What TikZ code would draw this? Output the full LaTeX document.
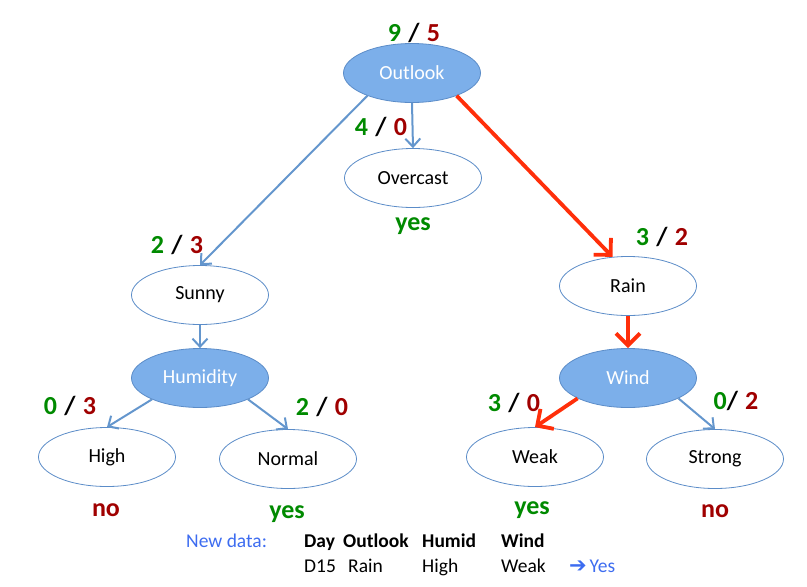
\documentclass[tikz,border=0pt]{standalone}
\usepackage{fontspec}
\setmainfont{Carlito}
\newfontfamily\dejavu{DejaVu Sans}
\usetikzlibrary{shapes.geometric,arrows.meta}
\definecolor{edgeblue}{HTML}{6496CD}
\definecolor{nodeline}{HTML}{5B8CC8}
\definecolor{nodefill}{HTML}{7CAFEA}
\definecolor{pathred}{HTML}{FF2F0A}
\definecolor{cgreen}{HTML}{008A00}
\definecolor{cdred}{HTML}{A00000}
\definecolor{newblue}{HTML}{3D6CF0}
\newcommand\gbratio[2]{\textcolor{cgreen}{#1}\hspace{0.28em}/\hspace{0.28em}\textcolor{cdred}{#2}}
\begin{document}
\begin{tikzpicture}[x=1pt,y=-1pt,
  leaf/.style={ellipse,draw=nodeline,line width=0.8pt,fill=white,minimum width=137pt,minimum height=59pt,inner sep=0pt,font=\fontsize{20}{22}\selectfont},
  attr/.style={leaf,fill=nodefill,text=white},
  count/.style={font=\fontsize{26}{28}\selectfont\bfseries,inner sep=0pt},
  yesv/.style={font=\fontsize{26}{28}\selectfont\bfseries,text=cgreen,inner sep=0pt},
  nov/.style={font=\fontsize{26}{28}\selectfont\bfseries,text=cdred,inner sep=0pt},
  tabtext/.style={font=\fontsize{19.5}{21}\selectfont,anchor=base west,inner sep=0pt},
  tabhead/.style={tabtext,font=\fontsize{19.5}{21}\selectfont\bfseries},
  blueedge/.style={draw=edgeblue,line width=2pt,-{Straight Barb[length=8pt,width=15pt]}},
  rededge/.style={draw=pathred,line width=3.8pt,-{Straight Barb[length=12pt,width=24pt]}},
]
\useasboundingbox (0,0) rectangle (807,587);

% nodes
\node[attr] (outlook) at (412,73) {Outlook};
\node[leaf] (overcast) at (413,178) {Overcast};
\node[leaf] (sunny) at (200,295) {Sunny};
\node[attr] (humidity) at (200,378) {Humidity};
\node[leaf] (high) at (107,457) {High};
\node[leaf] (normal) at (288,459) {Normal};
\node[leaf] (rain) at (628,286) {Rain};
\node[attr] (wind) at (628,378) {Wind};
\node[leaf] (weak) at (535,457) {Weak};
\node[leaf] (strong) at (715,459) {Strong};

% counts
\node[count] (c95) at (414,33) {\gbratio{9}{5}};
\node[count] (c40) at (381,127) {\gbratio{4}{0}};
\node[count] (c23) at (177,245) {\gbratio{2}{3}};
\node[count] (c32) at (662,237) {\gbratio{3}{2}};
\node[count] (c03) at (70,406) {\gbratio{0}{3}};
\node[count] (c20) at (322,407) {\gbratio{2}{0}};
\node[count] (c30) at (514,403) {\gbratio{3}{0}};
\node[count] (c02) at (736,401) {\textcolor{cgreen}{0}/\hspace{0.28em}\textcolor{cdred}{2}};

% verdicts
\node[yesv] (vovercast) at (413,226) {yes};
\node[nov] (vhigh) at (106,510) {no};
\node[yesv] (vnormal) at (287,514) {yes};
\node[yesv] (vweak) at (532,510) {yes};
\node[nov] (vstrong) at (715,511) {no};

% edges
\draw[blueedge] (outlook.south) -- (overcast.north);
\draw[blueedge] (outlook.207) -- (sunny.north);
\draw[rededge] (outlook.333) -- (rain.118);
\draw[blueedge] (sunny.south) -- (humidity.north);
\draw[blueedge] (humidity.204) -- (high.north);
\draw[blueedge] (humidity.336) -- (normal.north);
\draw[rededge] (rain.south) -- (wind.north);
\draw[rededge] (wind.202) -- (weak.north);
\draw[blueedge] (wind.338) -- (strong.north);

% new data table
\node[tabtext,text=newblue] (newdata) at (186,547) {New data:};
\node[tabhead] (hday) at (304,547) {Day};
\node[tabhead] (houtlook) at (343,547) {Outlook};
\node[tabhead] (hhumid) at (422,547) {Humid};
\node[tabhead] (hwind) at (501,547) {Wind};
\node[tabtext] (dday) at (304,572) {D15};
\node[tabtext] (doutlook) at (348,572) {Rain};
\node[tabtext] (dhumid) at (422,572) {High};
\node[tabtext] (dwind) at (501,572) {Weak};
\node[tabtext,text=newblue] (result) at (569,572) {{\dejavu\bfseries\fontsize{21}{22}\selectfont ➔}\hspace{0.15em}Yes};
\end{tikzpicture}
\end{document}
